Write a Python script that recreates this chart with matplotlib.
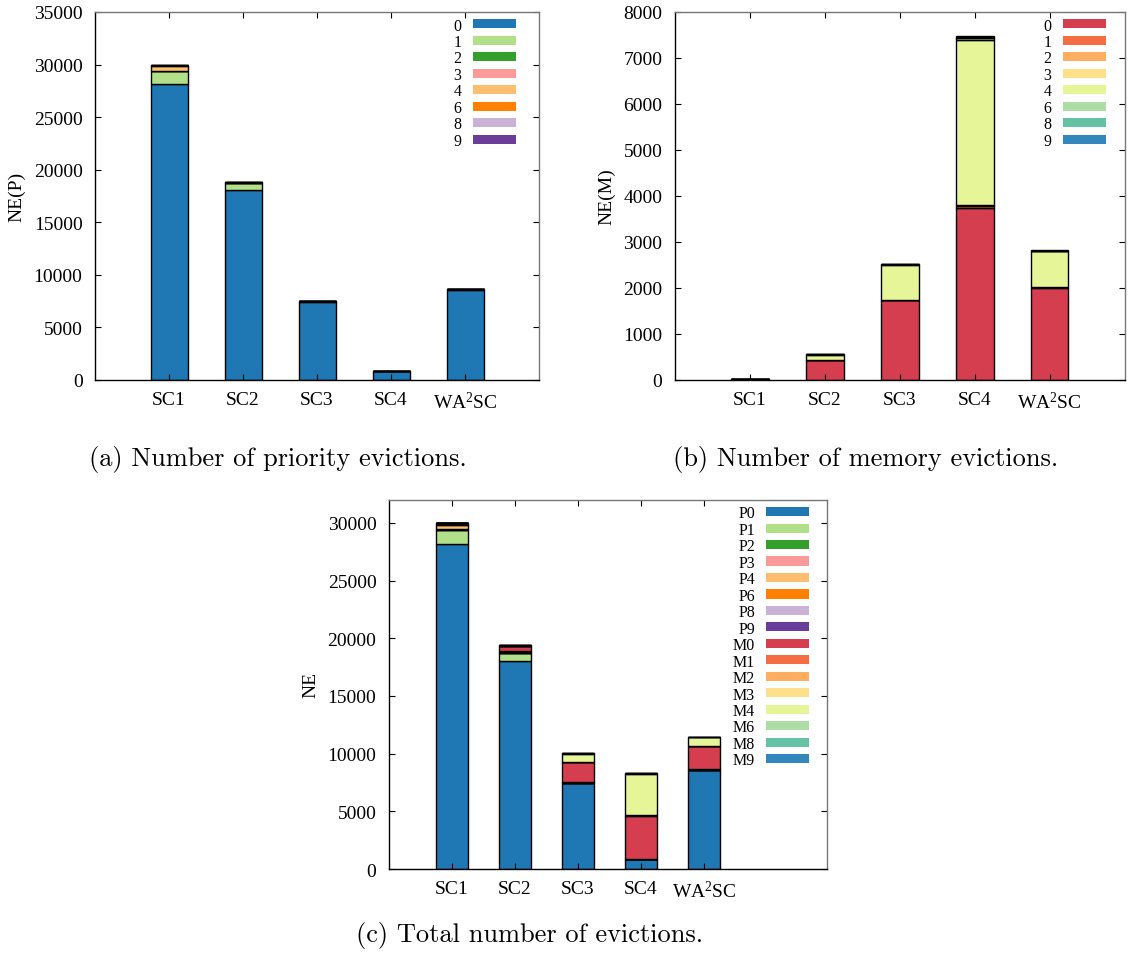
import matplotlib
matplotlib.use("Agg")
import matplotlib.pyplot as plt
import matplotlib.patches as mpatches
import numpy as np

plt.rcParams['font.family'] = ['Liberation Serif', 'DejaVu Serif']
plt.rcParams['mathtext.fontset'] = 'custom'
plt.rcParams['mathtext.rm'] = 'Liberation Serif'
plt.rcParams['mathtext.it'] = 'Liberation Serif:italic'

categories = ['SC1', 'SC2', 'SC3', 'SC4', 'WA$^2$SC']

# priority evictions per class
p_labels = ['0', '1', '2', '3', '4', '6', '8', '9']
P0 = [28150, 18050, 7450, 850, 8580]
P1 = [1250, 700, 30, 10, 40]
P2 = [0, 0, 0, 0, 0]
P3 = [20, 10, 0, 0, 0]
P4 = [400, 60, 10, 0, 10]
P6 = [120, 40, 10, 0, 10]
P8 = [0, 0, 0, 0, 0]
P9 = [0, 0, 0, 0, 0]
p_series = [P0, P1, P2, P3, P4, P6, P8, P9]
p_colors = ['#1f78b4', '#b2df8a', '#33a02c', '#fb9a99', '#fdbf6f', '#ff7f00', '#cab2d6', '#6a3d9a']

# memory evictions per class
m_labels = ['0', '1', '2', '3', '4', '6', '8', '9']
M0 = [10, 440, 1740, 3730, 2000]
M1 = [0, 0, 0, 60, 20]
M2 = [0, 0, 5, 10, 5]
M3 = [0, 0, 0, 0, 0]
M4 = [5, 110, 760, 3590, 770]
M6 = [0, 5, 10, 40, 10]
M8 = [0, 5, 5, 30, 5]
M9 = [5, 5, 5, 20, 5]
m_series = [M0, M1, M2, M3, M4, M6, M8, M9]
m_colors = ['#d53e4f', '#f46d43', '#fdae61', '#fee08b', '#e6f598', '#abdda4', '#66c2a5', '#3288bd']

fig = plt.figure(figsize=(11.3, 9.62), dpi=100)

def style_axes(ax):
    for s in ['left', 'bottom']:
        ax.spines[s].set_color('black')
        ax.spines[s].set_linewidth(1.0)
    for s in ['top', 'right']:
        ax.spines[s].set_color('#777777')
        ax.spines[s].set_linewidth(1.0)
    ax.tick_params(axis='both', direction='in', length=4.5, width=0.8,
                   top=True, right=True, labelsize=14)
    ax.tick_params(axis='y', pad=9)
    ax.tick_params(axis='x', pad=8)

def stacked(ax, series, colors, labels, width=0.5):
    x = np.arange(len(categories))
    bottom = np.zeros(len(categories))
    handles = []
    for vals, c, lab in zip(series, colors, labels):
        v = np.array(vals, dtype=float)
        ax.bar(x, v, width, bottom=bottom, color=c, edgecolor='black', linewidth=1.0)
        bottom += v
        handles.append(mpatches.Patch(facecolor=c, edgecolor='none', label=lab))
    ax.set_xticks(x)
    ax.set_xticklabels(categories)
    return handles

def legend(ax, handles, anchor):
    ax.legend(handles=handles, loc='upper right', bbox_to_anchor=anchor,
              frameon=False, markerfirst=False, fontsize=11.5,
              handlelength=2.7, handleheight=0.5, labelspacing=0.03,
              handletextpad=0.7, borderpad=0, borderaxespad=0)

# (a)
axa = fig.add_axes([0.0841, 0.604, 0.3929, 0.3825])
h = stacked(axa, p_series, p_colors, p_labels)
axa.set_xlim(-1, 5)
axa.set_ylim(0, 35000)
axa.set_yticks(np.arange(0, 35001, 5000))
axa.set_ylabel('NE(P)', fontsize=14, labelpad=6)
style_axes(axa)
legend(axa, h, (0.948, 0.985))

# (b)
axb = fig.add_axes([0.5973, 0.604, 0.398, 0.3825])
h = stacked(axb, m_series, m_colors, m_labels)
axb.set_xlim(-1, 5)
axb.set_ylim(0, 8000)
axb.set_yticks(np.arange(0, 8001, 1000))
axb.set_ylabel('NE(M)', fontsize=14, labelpad=6)
style_axes(axb)
legend(axb, h, (0.958, 0.985))

# (c)
axc = fig.add_axes([0.3442, 0.0956, 0.3876, 0.3839])
c_series = p_series + m_series
c_colors = p_colors + m_colors
c_labels = ['P' + l for l in p_labels] + ['M' + l for l in m_labels]
h = stacked(axc, c_series, c_colors, c_labels)
axc.set_xlim(-1, 5.95)
axc.set_ylim(0, 32000)
axc.set_yticks(np.arange(0, 30001, 5000))
axc.set_ylabel('NE', fontsize=14, labelpad=6)
style_axes(axc)
legend(axc, h, (0.96, 0.985))

cap = dict(fontfamily='cmr10', fontsize=19, ha='center', va='center')
fig.text(278 / 1130, 1 - 460 / 962, '(a) Number of priority evictions.', **cap)
fig.text(866 / 1130, 1 - 460 / 962, '(b) Number of memory evictions.', **cap)
fig.text(530 / 1130, 1 - 936 / 962, '(c) Total number of evictions.', **cap)

fig.savefig('out.png', dpi=100)
